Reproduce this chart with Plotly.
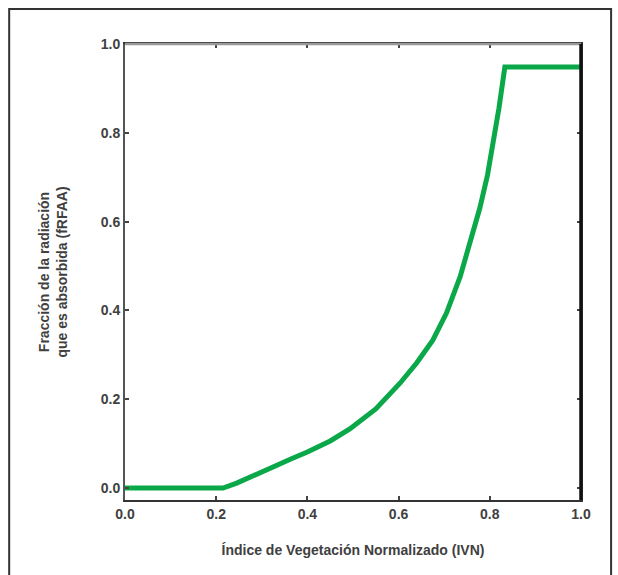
import plotly.graph_objects as go

ivn = [0.0, 0.215, 0.245, 0.274, 0.30, 0.33, 0.365, 0.40, 0.45, 0.493, 0.55, 0.603, 0.64, 0.675,
       0.705, 0.735, 0.758, 0.778, 0.795, 0.807, 0.82, 0.833, 1.0]
frfaa = [0.0, 0.0, 0.011, 0.025, 0.037, 0.051, 0.066, 0.081, 0.106, 0.133, 0.178, 0.236, 0.282, 0.333,
         0.394, 0.476, 0.554, 0.630, 0.705, 0.776, 0.855, 0.948, 0.948]
tick_vals = [0.0, 0.2, 0.4, 0.6, 0.8, 1.0]
tick_text = ["<b>0.0</b>", "<b>0.2</b>", "<b>0.4</b>", "<b>0.6</b>", "<b>0.8</b>", "<b>1.0</b>"]

fig = go.Figure()
fig.add_trace(go.Scatter(x=ivn, y=frfaa, mode="lines",
                         line=dict(color="#0BA84A", width=5),
                         hoverinfo="skip"))

font = dict(family="Liberation Sans, Arial, sans-serif", size=14, color="#404040")
axis_common = dict(showgrid=False, zeroline=False, ticks="inside", ticklen=4,
                   tickwidth=1.5, tickcolor="#444", showline=True, linewidth=2,
                   mirror="ticks", tickvals=tick_vals, ticktext=tick_text,
                   tickfont=font)
fig.update_xaxes(range=[0, 1], linecolor="#333", **axis_common,
                 title=dict(text="<b>Índice de Vegetación Normalizado (IVN)</b>",
                            font=font, standoff=24))
fig.update_yaxes(range=[-0.027, 1.0], linecolor="#555", **axis_common,
                 title=dict(text="<b>Fracción de la radiación<br>que es absorbida (fRFAA)</b>",
                            font=font, standoff=30))
fig.update_layout(
    width=618, height=575,
    margin=dict(l=125, r=37, t=44, b=75),
    paper_bgcolor="white", plot_bgcolor="white",
    showlegend=False,
    font=font,
    shapes=[
        dict(type="line", xref="paper", yref="paper", x0=0, x1=1, y0=1, y1=1,
             line=dict(color="#999", width=2.5)),
        dict(type="line", xref="paper", yref="paper", x0=1, x1=1, y0=0, y1=1,
             line=dict(color="#111", width=3.5)),
        dict(type="rect", xref="paper", yref="paper", x0=-0.254, x1=1.066,
             y0=-0.2, y1=1.077, line=dict(color="#333", width=2), layer="below"),
    ],
)
fig.write_html("out.html")
